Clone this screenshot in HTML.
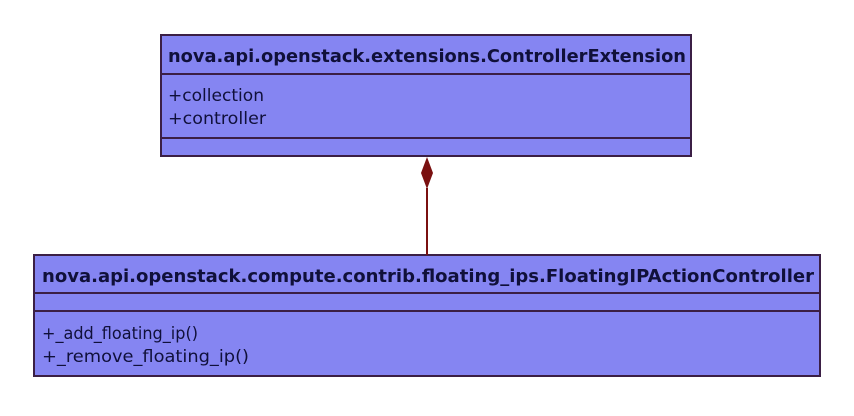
<!DOCTYPE html>
<html><head><style>html,body{margin:0;padding:0;background:#fff}</style></head>
<body>
<svg width="854" height="411" xmlns="http://www.w3.org/2000/svg" font-family="DejaVu Sans, Liberation Sans, sans-serif">
<rect width="854" height="411" fill="#fff"/>
<g stroke="#3b1f45" stroke-width="2" fill="#8585f2">
<rect x="161" y="35" width="530" height="121"/>
<line x1="161" y1="74" x2="691" y2="74"/>
<line x1="161" y1="138" x2="691" y2="138"/>
<rect x="34" y="255" width="786" height="121"/>
<line x1="34" y1="293" x2="820" y2="293"/>
<line x1="34" y1="311" x2="820" y2="311"/>
</g>
<line x1="427" y1="188" x2="427" y2="255" stroke="#7a1010" stroke-width="2"/>
<polygon points="427,157 433,173 427,189 421,173" fill="#7a1010"/>
<g fill="#10103a">
<text x="168" y="62" font-size="18" font-weight="bold" textLength="518" lengthAdjust="spacingAndGlyphs">nova.api.openstack.extensions.ControllerExtension</text>
<text x="168" y="101" font-size="17" textLength="96" lengthAdjust="spacingAndGlyphs">+collection</text>
<text x="168" y="124" font-size="17" textLength="98" lengthAdjust="spacingAndGlyphs">+controller</text>
<text x="42" y="282" font-size="18" font-weight="bold" textLength="772" lengthAdjust="spacingAndGlyphs">nova.api.openstack.compute.contrib.floating_ips.FloatingIPActionController</text>
<text x="42" y="339" font-size="17" textLength="156" lengthAdjust="spacingAndGlyphs">+_add_floating_ip()</text>
<text x="42" y="362" font-size="17" textLength="207" lengthAdjust="spacingAndGlyphs">+_remove_floating_ip()</text>
</g>
</svg>
</body></html>
